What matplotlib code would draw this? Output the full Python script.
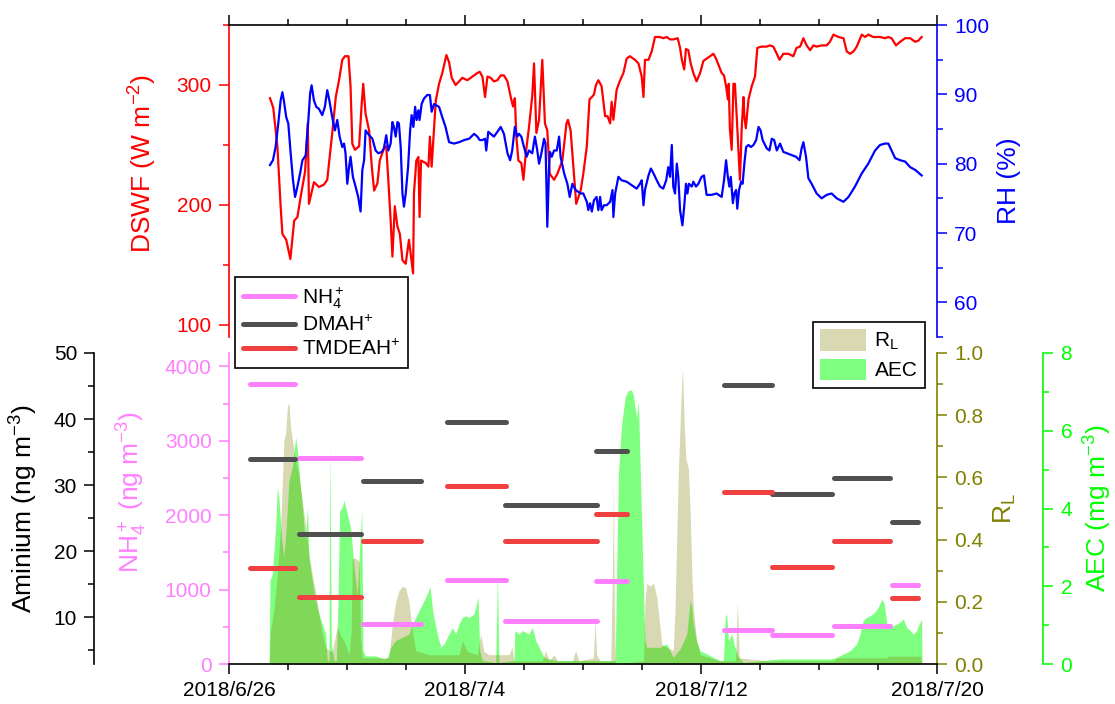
import numpy as np
import matplotlib
matplotlib.use('Agg')
import matplotlib.pyplot as plt
import matplotlib.dates as mdates
from matplotlib.ticker import MultipleLocator, FixedLocator, FuncFormatter, FormatStrFormatter
from matplotlib.lines import Line2D

plt.rcParams['font.family'] = ['Liberation Sans', 'DejaVu Sans']
plt.rcParams['mathtext.fontset'] = 'custom'
plt.rcParams['mathtext.rm'] = 'Liberation Sans'
plt.rcParams['mathtext.it'] = 'Liberation Sans'
plt.rcParams['mathtext.bf'] = 'Liberation Sans:bold'

# ---- data (days after 2018-06-26 00:00) ----
dswf_day = [1.39, 1.50, 1.64, 1.75, 1.81, 1.86, 1.94, 2.08, 2.21, 2.32,
            2.43, 2.58, 2.67, 2.71, 2.88, 3.05, 3.22, 3.33, 3.50, 3.62,
            3.73, 3.84, 3.93, 4.05, 4.12, 4.18, 4.27, 4.41, 4.50, 4.55,
            4.63, 4.75, 4.84, 4.92, 5.03, 5.11, 5.25, 5.33, 5.40, 5.48,
            5.54, 5.62, 5.71, 5.79, 5.88, 5.99, 6.10, 6.24, 6.27, 6.35,
            6.42, 6.46, 6.51, 6.67, 6.76, 6.81, 6.87, 7.01, 7.12, 7.23,
            7.37, 7.46, 7.55, 7.68, 7.80, 7.91, 8.08, 8.25, 8.42, 8.50,
            8.59, 8.68, 8.76, 8.87, 8.98, 9.10, 9.21, 9.32, 9.44, 9.55,
            9.63, 9.69, 9.74, 9.81, 9.91, 9.98, 10.06, 10.17, 10.28, 10.34,
            10.42, 10.51, 10.62, 10.71, 10.79, 10.87, 11.02, 11.13, 11.30, 11.44,
            11.49, 11.58, 11.69, 11.77, 11.92, 12.01, 12.13, 12.22, 12.30, 12.37,
            12.44, 12.52, 12.63, 12.75, 12.83, 12.92, 12.97, 13.03, 13.14, 13.26,
            13.37, 13.48, 13.59, 13.76, 13.88, 13.99, 14.05, 14.10, 14.22, 14.33,
            14.44, 14.61, 14.72, 14.84, 14.95, 15.06, 15.21, 15.29, 15.35, 15.43,
            15.49, 15.57, 15.65, 15.74, 15.85, 15.97, 16.08, 16.19, 16.31, 16.42,
            16.51, 16.62, 16.70, 16.78, 16.85, 16.91, 16.94, 16.98, 17.04, 17.10,
            17.15, 17.21, 17.32, 17.38, 17.44, 17.47, 17.52, 17.61, 17.72, 17.83,
            17.91, 18.06, 18.23, 18.34, 18.45, 18.57, 18.66, 18.79, 18.96, 19.13,
            19.24, 19.36, 19.47, 19.58, 19.70, 19.81, 19.92, 20.09, 20.26, 20.37,
            20.49, 20.66, 20.83, 20.94, 21.05, 21.17, 21.28, 21.45, 21.56, 21.67,
            21.84, 22.07, 22.24, 22.35, 22.46, 22.61, 22.75, 22.92, 23.09, 23.26,
            23.37, 23.48]
dswf = [289, 281, 249, 199, 176, 174, 171, 155, 187, 190,
        207, 228, 268, 201, 219, 215, 217, 221, 260, 290,
        304, 321, 324, 324, 299, 251, 246, 249, 285, 301,
        276, 262, 232, 212, 218, 237, 247, 249, 221, 187,
        157, 199, 182, 176, 154, 151, 171, 143, 210, 237,
        240, 190, 237, 235, 232, 257, 232, 287, 301, 310,
        325, 319, 306, 300, 303, 306, 304, 307, 310, 311,
        307, 290, 307, 306, 303, 304, 308, 308, 303, 290,
        282, 289, 257, 237, 235, 221, 243, 265, 291, 318,
        260, 271, 321, 268, 262, 226, 221, 226, 237, 268,
        271, 262, 226, 201, 212, 226, 249, 288, 290, 292,
        300, 304, 299, 274, 274, 268, 286, 271, 296, 304,
        310, 322, 324, 321, 318, 307, 290, 321, 321, 328,
        340, 340, 339, 340, 338, 338, 339, 331, 321, 313,
        330, 329, 318, 310, 303, 310, 320, 322, 324, 326,
        322, 315, 310, 308, 299, 288, 301, 263, 246, 301,
        301, 274, 221, 264, 290, 274, 264, 288, 299, 307,
        331, 332, 332, 333, 332, 326, 321, 326, 326, 324,
        331, 332, 339, 333, 329, 333, 332, 333, 333, 336,
        342, 340, 339, 328, 326, 328, 332, 342, 340, 342,
        340, 340, 339, 340, 339, 333, 336, 339, 339, 336,
        337, 340]

rh_day = [1.39, 1.49, 1.58, 1.67, 1.75, 1.81, 1.86, 1.94, 2.01, 2.09,
          2.17, 2.24, 2.32, 2.41, 2.49, 2.60, 2.69, 2.75, 2.80, 2.88,
          2.96, 3.05, 3.16, 3.25, 3.33, 3.39, 3.50, 3.59, 3.67, 3.75,
          3.84, 3.90, 3.95, 4.01, 4.07, 4.12, 4.20, 4.29, 4.38, 4.46,
          4.52, 4.58, 4.63, 4.75, 4.86, 4.97, 5.06, 5.18, 5.25, 5.33,
          5.40, 5.48, 5.54, 5.59, 5.65, 5.71, 5.76, 5.82, 5.88, 5.93,
          5.99, 6.07, 6.14, 6.19, 6.25, 6.31, 6.36, 6.42, 6.46, 6.53,
          6.61, 6.72, 6.81, 6.87, 6.95, 7.03, 7.12, 7.23, 7.34, 7.46,
          7.63, 7.80, 7.97, 8.14, 8.31, 8.42, 8.50, 8.59, 8.68, 8.72,
          8.79, 8.87, 8.98, 9.10, 9.21, 9.32, 9.44, 9.53, 9.60, 9.69,
          9.77, 9.83, 9.91, 10.00, 10.09, 10.17, 10.28, 10.37, 10.45, 10.51,
          10.59, 10.68, 10.73, 10.79, 10.85, 10.88, 10.94, 11.02, 11.11, 11.19,
          11.24, 11.36, 11.47, 11.55, 11.64, 11.75, 11.92, 12.01, 12.13, 12.18,
          12.24, 12.30, 12.37, 12.46, 12.52, 12.58, 12.63, 12.71, 12.80, 12.92,
          13.00, 13.03, 13.09, 13.20, 13.31, 13.48, 13.65, 13.82, 13.93, 13.99,
          14.05, 14.10, 14.22, 14.30, 14.39, 14.50, 14.61, 14.72, 14.82, 14.89,
          14.95, 15.01, 15.06, 15.12, 15.18, 15.23, 15.29, 15.37, 15.43, 15.49,
          15.54, 15.59, 15.69, 15.74, 15.83, 15.91, 16.02, 16.10, 16.19, 16.36,
          16.53, 16.70, 16.78, 16.85, 16.91, 16.96, 17.01, 17.08, 17.13, 17.19,
          17.23, 17.29, 17.36, 17.41, 17.47, 17.53, 17.61, 17.69, 17.78, 17.87,
          17.95, 18.02, 18.09, 18.23, 18.32, 18.40, 18.48, 18.57, 18.68, 18.79,
          18.91, 19.08, 19.22, 19.34, 19.41, 19.47, 19.56, 19.64, 19.75, 19.92,
          20.09, 20.26, 20.43, 20.60, 20.83, 21.00, 21.22, 21.45, 21.67, 21.90,
          22.07, 22.24, 22.35, 22.46, 22.58, 22.75, 22.92, 23.09, 23.26, 23.48]
rh = [79.8, 80.5, 82.4, 85.8, 89.1, 90.3, 89.1, 86.7, 85.8, 81.5,
      77.6, 75.2, 76.7, 78.6, 80.5, 81.2, 86.3, 90.1, 91.3, 89.1,
      88.2, 87.9, 87.0, 88.2, 90.6, 89.4, 86.7, 84.8, 86.3, 83.9,
      82.4, 82.9, 81.5, 77.1, 79.5, 81.0, 78.1, 76.7, 75.2, 73.1,
      79.1, 80.5, 84.8, 84.1, 83.6, 81.9, 81.5, 81.7, 82.2, 84.1,
      81.9, 82.9, 86.0, 85.3, 83.9, 86.0, 85.8, 82.4, 75.7, 73.8,
      75.7, 79.5, 84.8, 87.0, 85.3, 88.2, 86.3, 87.7, 86.3, 88.6,
      89.4, 89.9, 89.9, 87.5, 88.6, 88.4, 88.2, 86.7, 85.3, 83.1,
      82.9, 83.1, 83.4, 83.6, 84.3, 83.9, 83.4, 83.4, 83.6, 81.9,
      84.6, 84.3, 83.9, 84.6, 85.3, 84.3, 81.5, 80.5, 81.9, 85.3,
      83.9, 84.3, 83.9, 82.4, 81.0, 81.9, 81.5, 83.9, 81.9, 80.0,
      81.5, 83.6, 82.9, 70.9, 79.5, 81.7, 81.0, 81.9, 81.9, 83.9,
      81.0, 78.6, 77.1, 75.2, 77.1, 76.2, 75.7, 75.7, 74.5, 73.3,
      74.3, 73.1, 74.7, 75.2, 73.3, 75.2, 73.3, 74.0, 74.0, 74.5,
      76.2, 72.3, 75.7, 78.1, 77.6, 77.4, 76.9, 76.4, 77.1, 77.6,
      74.0, 76.2, 78.3, 79.3, 78.6, 77.6, 76.7, 76.4, 77.6, 79.5,
      78.1, 82.7, 76.7, 75.7, 80.0, 78.1, 73.3, 71.1, 73.8, 77.1,
      75.7, 77.1, 76.7, 77.4, 76.7, 77.1, 78.1, 78.3, 75.5, 75.5,
      75.7, 75.2, 77.6, 80.5, 78.1, 76.7, 78.1, 74.3, 75.7, 76.2,
      73.5, 76.2, 77.4, 77.1, 80.0, 82.4, 82.7, 82.4, 82.7, 83.4,
      85.3, 84.8, 83.4, 82.2, 81.9, 83.6, 83.4, 81.9, 82.9, 81.7,
      81.5, 81.2, 81.0, 80.5, 82.2, 83.1, 81.0, 77.9, 77.1, 75.7,
      75.0, 75.5, 75.7, 75.0, 74.5, 75.2, 76.7, 78.6, 80.0, 81.9,
      82.7, 82.9, 82.9, 81.9, 80.8, 80.5, 80.3, 79.5, 79.1, 78.3]

aec_day = [1.36, 1.39, 1.47, 1.58, 1.64, 1.69, 1.79, 1.86, 1.94, 2.03,
           2.15, 2.26, 2.32, 2.40, 2.49, 2.58, 2.66, 2.71, 2.82, 2.94,
           3.05, 3.16, 3.28, 3.33, 3.39, 3.42, 3.47, 3.56, 3.64, 3.69,
           3.75, 3.84, 3.90, 4.01, 4.12, 4.24, 4.35, 4.44, 4.50, 4.54,
           4.63, 4.97, 5.25, 5.37, 5.48, 5.65, 5.88, 6.10, 6.21, 6.33,
           6.50, 6.67, 6.81, 6.92, 7.06, 7.18, 7.29, 7.46, 7.57, 7.68,
           7.80, 7.91, 8.02, 8.14, 8.31, 8.44, 8.50, 8.59, 9.04, 9.10,
           9.15, 9.66, 9.69, 9.83, 9.94, 10.17, 10.28, 10.40, 10.51, 10.68,
           11.07, 12.46, 13.03, 13.09, 13.14, 13.20, 13.31, 13.43, 13.54, 13.65,
           13.71, 13.76, 13.82, 13.88, 13.93, 13.99, 14.05, 14.10, 14.16, 14.61,
           14.84, 14.95, 15.06, 15.30, 15.52, 15.63, 15.69, 15.74, 15.85, 15.97,
           16.42, 16.65, 16.76, 16.82, 16.87, 16.93, 17.04, 17.15, 17.27, 17.44,
           18.68, 19.24, 20.37, 20.60, 20.83, 21.05, 21.28, 21.39, 21.50, 21.62,
           21.84, 22.01, 22.13, 22.21, 22.30, 22.41, 22.63, 22.75, 22.86, 22.97,
           23.09, 23.20, 23.31, 23.45, 23.48, 23.49]
aec = [0, 2.15, 2.32, 3.52, 4.55, 4.29, 3.18, 2.75, 3.52, 4.72,
       5.07, 5.84, 5.49, 4.72, 4.03, 3.18, 4.03, 2.75, 2.15, 1.63,
       1.29, 1.03, 0.77, 0.09, 0.09, 5.67, 0.50, 0.09, 0.09, 1.50,
       3.95, 4.03, 4.21, 3.86, 3.52, 2.49, 1.80, 3.18, 3.95, 0.34,
       0.21, 0.21, 0.13, 0.17, 0.43, 0.60, 0.69, 0.77, 1.03, 1.20,
       1.46, 1.72, 1.98, 1.29, 0.77, 0.43, 0.52, 0.77, 0.94, 0.77,
       1.03, 1.20, 1.24, 1.20, 1.29, 1.72, 0.34, 0.09, 0.04, 2.32,
       0.04, 0.09, 0.86, 0.77, 0.86, 0.77, 0.94, 0.60, 0.43, 0.17,
       0.09, 0.09, 0.09, 0.09, 2.32, 4.89, 6.18, 6.87, 7.04, 7.04,
       6.91, 6.61, 6.35, 6.74, 5.32, 3.61, 1.89, 0.60, 0.43, 0.43,
       0.52, 0.34, 0.17, 0.40, 0.77, 1.63, 1.46, 1.03, 0.60, 0.34,
       0.17, 0.09, 0.09, 1.20, 1.29, 0.60, 0.77, 0.43, 0.17, 0.04,
       0.13, 0.13, 0.13, 0.17, 0.26, 0.34, 0.52, 0.77, 1.12, 1.20,
       1.29, 1.46, 1.67, 1.55, 1.03, 0.94, 1.03, 1.07, 1.16, 0.94,
       0.86, 0.77, 0.86, 1.12, 1.12, 0]

rl_day = [1.36, 1.41, 1.53, 1.64, 1.75, 1.81, 1.86, 1.92, 1.98, 2.03,
          2.09, 2.15, 2.26, 2.37, 2.49, 2.60, 2.71, 2.82, 2.94, 3.05,
          3.16, 3.28, 3.39, 3.50, 3.67, 3.79, 3.90, 4.07, 4.14, 4.18,
          4.29, 4.41, 4.46, 4.52, 5.42, 5.54, 5.65, 5.76, 5.88, 5.99,
          6.10, 6.21, 6.33, 6.78, 7.80, 7.91, 8.08, 8.42, 8.53, 8.64,
          8.81, 9.49, 9.60, 9.66, 10.62, 10.73, 10.85, 11.02, 11.13, 11.64,
          11.75, 11.86, 12.35, 12.41, 12.46, 12.58, 12.94, 13.00, 13.03, 13.06,
          13.10, 14.05, 14.10, 14.16, 14.27, 14.39, 14.50, 14.61, 14.67, 14.84,
          15.06, 15.12, 15.23, 15.31, 15.37, 15.43, 15.49, 15.57, 15.63, 15.69,
          15.74, 15.85, 15.97, 16.65, 17.17, 17.23, 17.30, 18.23, 20.49, 20.60,
          22.30, 22.35, 23.45, 23.48]
rl = [0, 0.107, 0.18, 0.29, 0.44, 0.59, 0.72, 0.74, 0.83, 0.84,
      0.76, 0.72, 0.65, 0.61, 0.52, 0.44, 0.35, 0.29, 0.23, 0.16,
      0.097, 0.054, 0.043, 0.04, 0.12, 0.09, 0.075, 0.03, 0.10, 0.34,
      0.34, 0.33, 0.08, 0.02, 0.02, 0.13, 0.20, 0.236, 0.25, 0.245,
      0.20, 0.107, 0.043, 0.03, 0.03, 0.075, 0.04, 0.03, 0.097, 0.04,
      0.03, 0.03, 0.054, 0.01, 0.01, 0.043, 0.01, 0.03, 0.01, 0.01,
      0.043, 0.01, 0.02, 0.14, 0.03, 0.01, 0.01, 0.30, 0.59, 0.20,
      0.0, 0.01, 0.20, 0.26, 0.25, 0.26, 0.215, 0.118, 0.064, 0.054,
      0.043, 0.18, 0.61, 0.82, 0.955, 0.77, 0.66, 0.63, 0.50, 0.29,
      0.18, 0.075, 0.03, 0.01, 0.01, 0.20, 0.02, 0.01, 0.01, 0.02,
      0.02, 0.025, 0.025, 0]

# sampling periods (filter samples) and concentrations
seg_start = [0.70, 2.37, 4.55, 7.40, 9.36, 12.43, 16.79, 18.42, 20.51, 22.49]
seg_end = [2.23, 4.49, 6.50, 9.38, 12.46, 13.48, 18.42, 20.43, 22.41, 23.37]
nh4 = [3763, 2764, 538, 1133, 582, 1120, 461, 385, 506, 1066]
dmah = [33.9, 22.6, 30.6, 39.6, 27.0, 35.2, 45.1, 28.7, 31.1, 24.5]
tmdeah = [17.5, 13.1, 21.5, 29.9, 21.5, 25.7, 29.0, 17.7, 21.6, 13.0]

RED = '#FF0000'
BLUE = '#0000FF'
PINK = '#FF80FF'
OLIVE = '#808000'
LIME = '#00FF00'
GRAY = '#505050'
SEGRED = '#F04040'

t0 = mdates.date2num(np.datetime64('2018-06-26T00:00'))
def tt(d):
    return t0 + np.asarray(d, dtype=float)

TICK = 15
LAB = 19

fig = plt.figure(figsize=(11.15, 7.04), dpi=100)
L, W = 229 / 1115, 708 / 1115
ax_top = fig.add_axes([L, 1 - 337 / 704, W, 312 / 704])
ax_rh = ax_top.twinx()
ax_bot = fig.add_axes([L, 1 - 664 / 704, W, 311 / 704])
ax_aec = ax_bot.twinx()
ax_rl = ax_bot.twinx()
ax_am = ax_bot.twinx()

for a in [ax_top, ax_rh, ax_bot, ax_aec, ax_rl, ax_am]:
    a.patch.set_visible(False)
    for s in a.spines.values():
        s.set_visible(False)
        s.set_linewidth(1.2)
    a.tick_params(which='both', direction='out', width=1.1, labelsize=TICK, pad=5)
    a.tick_params(which='major', length=7.5)
    a.tick_params(which='minor', length=4)

ax_bot.set_zorder(3)
ax_am.set_zorder(4)

# ---- top panel ----
ax_top.plot(tt(dswf_day), dswf, color=RED, lw=1.6)
ax_rh.plot(tt(rh_day), rh, color=BLUE, lw=1.6)

xmin, xmax = tt(0), tt(24)
ax_top.set_xlim(xmin, xmax)
ax_top.set_ylim(90, 350)
ax_rh.set_ylim(55, 100)

ax_top.spines['top'].set_visible(True)
ax_top.spines['left'].set_visible(True)
ax_top.spines['left'].set_color(RED)
ax_top.xaxis.set_ticks_position('top')
ax_top.xaxis.set_major_locator(FixedLocator(tt([0, 8, 16, 24])))
ax_top.xaxis.set_minor_locator(FixedLocator(tt(np.arange(0, 25, 2))))
ax_top.tick_params(axis='x', which='both', labeltop=False, labelbottom=False)
ax_top.yaxis.set_major_locator(MultipleLocator(100))
ax_top.yaxis.set_minor_locator(MultipleLocator(50))
ax_top.tick_params(axis='y', which='both', colors=RED)
ax_top.set_ylabel('DSWF (W m$^{-2}$)', color=RED, fontsize=LAB)
ax_top.yaxis.set_label_coords(-0.099, 0.557)

ax_rh.spines['right'].set_visible(True)
ax_rh.spines['right'].set_color(BLUE)
ax_rh.yaxis.set_major_locator(MultipleLocator(10))
ax_rh.yaxis.set_minor_locator(MultipleLocator(5))
ax_rh.tick_params(axis='y', which='both', colors=BLUE)
ax_rh.set_ylabel('RH (%)', color=BLUE, fontsize=LAB)
ax_rh.yaxis.set_label_coords(1.085, 0.5)

# ---- bottom panel ----
ax_aec.fill_between(tt(aec_day), 0, aec, color=LIME, alpha=0.5, lw=0, label='AEC')
ax_rl.fill_between(tt(rl_day), 0, rl, color=OLIVE, alpha=0.3, lw=0, label='R$_\\mathregular{L}$')

for s, e, v in zip(seg_start, seg_end, nh4):
    ax_bot.plot(tt([s, e]), [v, v], color=PINK, lw=3.6, solid_capstyle='round')
for s, e, v in zip(seg_start, seg_end, dmah):
    ax_am.plot(tt([s, e]), [v, v], color=GRAY, lw=3.6, solid_capstyle='round')
for s, e, v in zip(seg_start, seg_end, tmdeah):
    ax_am.plot(tt([s, e]), [v, v], color=SEGRED, lw=3.6, solid_capstyle='round')

ax_bot.set_xlim(xmin, xmax)
ax_bot.set_ylim(0, 4180)
ax_am.set_ylim(2.95, 50)
ax_rl.set_ylim(0, 1)
ax_aec.set_ylim(0, 8)

ax_bot.spines['bottom'].set_visible(True)
ax_bot.spines['left'].set_visible(True)
ax_bot.spines['left'].set_color(PINK)
ax_bot.xaxis.set_major_locator(FixedLocator(tt([0, 8, 16, 24])))
ax_bot.xaxis.set_minor_locator(FixedLocator(tt(np.arange(0, 25, 2))))
def datefmt(v, pos):
    d = mdates.num2date(v)
    return f'{d.year}/{d.month}/{d.day}'
ax_bot.xaxis.set_major_formatter(FuncFormatter(datefmt))
ax_bot.yaxis.set_major_locator(MultipleLocator(1000))
ax_bot.yaxis.set_minor_locator(MultipleLocator(500))
ax_bot.tick_params(axis='y', which='both', colors=PINK)
ax_bot.set_ylabel('NH$_4^+$ (ng m$^{-3}$)', color=PINK, fontsize=LAB)
ax_bot.yaxis.set_label_coords(-0.113, 0.553)

ax_am.spines['left'].set_visible(True)
ax_am.spines['left'].set_position(('axes', -0.19))
ax_am.spines['left'].set_color('black')
ax_am.yaxis.tick_left()
ax_am.yaxis.set_label_position('left')
ax_am.yaxis.set_major_locator(FixedLocator([10, 20, 30, 40, 50]))
ax_am.yaxis.set_minor_locator(FixedLocator([5, 15, 25, 35, 45]))
ax_am.set_ylabel('Aminium (ng m$^{-3}$)', color='black', fontsize=LAB)
ax_am.yaxis.set_label_coords(-0.267, 0.5)

ax_rl.spines['right'].set_visible(True)
ax_rl.spines['right'].set_color(OLIVE)
ax_rl.yaxis.set_major_locator(MultipleLocator(0.2))
ax_rl.yaxis.set_minor_locator(MultipleLocator(0.1))
ax_rl.yaxis.set_major_formatter(FormatStrFormatter('%.1f'))
ax_rl.tick_params(axis='y', which='both', colors=OLIVE)
ax_rl.set_ylabel('R$_\\mathregular{L}$', color=OLIVE, fontsize=LAB)
ax_rl.yaxis.set_label_coords(1.078, 0.5)

ax_aec.spines['right'].set_visible(True)
ax_aec.spines['right'].set_position(('axes', 1.15))
ax_aec.spines['right'].set_color(LIME)
ax_aec.yaxis.set_major_locator(MultipleLocator(2))
ax_aec.yaxis.set_minor_locator(MultipleLocator(1))
ax_aec.tick_params(axis='y', which='both', colors=LIME)
ax_aec.set_ylabel('AEC (mg m$^{-3}$)', color=LIME, fontsize=LAB)
ax_aec.yaxis.set_label_coords(1.205, 0.5)

# ---- legends ----
h1 = [Line2D([], [], color=PINK, lw=3.6, solid_capstyle='round'),
      Line2D([], [], color=GRAY, lw=3.6, solid_capstyle='round'),
      Line2D([], [], color=SEGRED, lw=3.6, solid_capstyle='round')]
leg1 = fig.legend(h1, ['NH$_4^+$', 'DMAH$^{+}$', 'TMDEAH$^{+}$'], loc='upper left',
                  bbox_to_anchor=(235 / 1115, 1 - 277 / 704), fontsize=15,
                  fancybox=False, edgecolor='black', framealpha=1,
                  borderaxespad=0, handlelength=2.5, labelspacing=0.2,
                  handletextpad=0.3, borderpad=0.4)
leg1.get_frame().set_linewidth(1.2)

hf1, lf1 = ax_rl.get_legend_handles_labels()
hf2, lf2 = ax_aec.get_legend_handles_labels()
leg2 = fig.legend(hf1 + hf2, lf1 + lf2, loc='upper left',
                  bbox_to_anchor=(813 / 1115, 1 - 322 / 704), fontsize=15,
                  fancybox=False, edgecolor='black', framealpha=1,
                  borderaxespad=0, handlelength=2.2, handleheight=1.2,
                  labelspacing=0.3, handletextpad=0.4, borderpad=0.35)
leg2.get_frame().set_linewidth(1.2)

fig.savefig('out.png', dpi=100)
